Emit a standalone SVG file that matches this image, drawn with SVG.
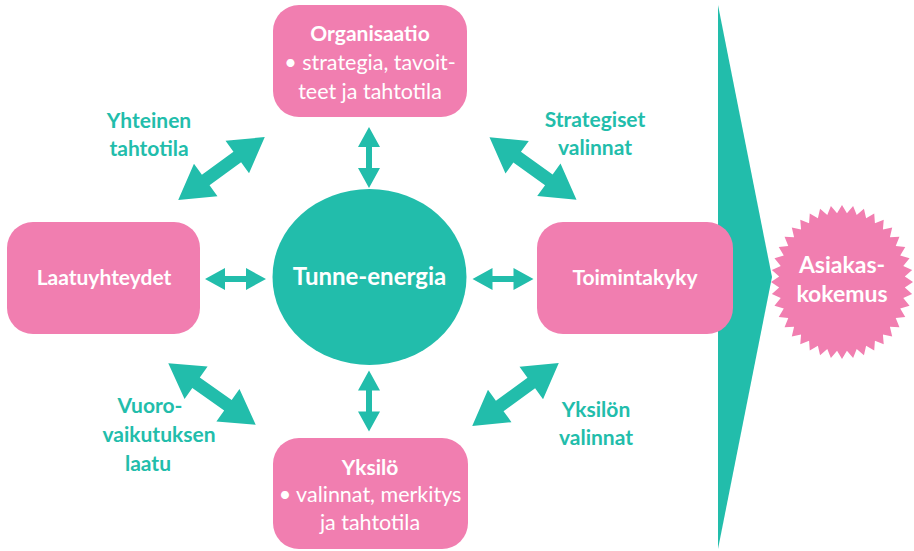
<svg xmlns="http://www.w3.org/2000/svg" width="914" height="551" viewBox="0 0 914 551">
<style>
.node{fill:#F17EB0}
.teal{fill:#22BDAB}
.t{font-family:Lato,"Open Sans",sans-serif;text-anchor:middle}
.wb{fill:#fff;font-weight:bold;font-size:21px}
.wr{fill:#fff;font-size:21.5px}
.lbl{fill:#22BDAB;font-weight:bold;font-size:21px}
</style>
<defs>
<path id="big" d="M -53.5 0 L -19.5 -20 L -19.5 -6.5 L 19.5 -6.5 L 19.5 -20 L 53.5 0 L 19.5 20 L 19.5 6.5 L -19.5 6.5 L -19.5 20 Z"/>
<path id="small" d="M -30.5 0 L -10.5 -11 L -10.5 -3 L 10.5 -3 L 10.5 -11 L 30.5 0 L 10.5 11 L 10.5 3 L -10.5 3 L -10.5 11 Z"/>
</defs>
<g id="flow-arrow">
<polygon class="teal" points="718,5 772,277 718,549"/>
</g>
<g id="connectors" class="teal">
<use href="#big" transform="translate(221.5,168.5) rotate(-36)"/>
<use href="#big" transform="translate(533,168.5) rotate(35.6)"/>
<use href="#big" transform="translate(212,394) rotate(35.2)"/>
<use href="#big" transform="translate(515.5,394.5) rotate(-36)"/>
<use href="#small" transform="translate(235.5,279)"/>
<use href="#small" transform="translate(503,279)"/>
<use href="#small" transform="translate(369,157.5) rotate(90)"/>
<use href="#small" transform="translate(369,401) rotate(90)"/>
</g>
<g id="organisaatio">
<rect class="node" x="273" y="5" width="194" height="112" rx="26"/>
<text class="t wb" x="370" y="41">Organisaatio</text>
<text class="t wr" x="370" y="70">• strategia, tavoit-</text>
<text class="t wr" x="370" y="99">teet ja tahtotila</text>
</g>
<g id="laatuyhteydet">
<rect class="node" x="7" y="222" width="193" height="112" rx="26"/>
<text class="t wb" x="104" y="285">Laatuyhteydet</text>
</g>
<g id="toimintakyky">
<rect class="node" x="537" y="222" width="196" height="112" rx="26"/>
<text class="t wb" x="635" y="285">Toimintakyky</text>
</g>
<g id="yksilo">
<rect class="node" x="273" y="438" width="195" height="111" rx="26"/>
<text class="t wb" x="370" y="475">Yksilö</text>
<text class="t wr" x="370" y="502">• valinnat, merkitys</text>
<text class="t wr" x="370" y="530">ja tahtotila</text>
</g>
<g id="tunne-energia">
<ellipse class="teal" cx="369.5" cy="277" rx="97" ry="88"/>
<text class="t wb" x="369.5" y="285" style="font-size:24px">Tunne-energia</text>
</g>
<g id="asiakaskokemus">
<polygon class="node" points="842,205 846.94,213.21 853.11,205.95 856.71,214.91 863.94,208.77 866.11,218.25 874.23,213.39 874.92,223.17 883.73,219.71 882.92,229.53 892.2,227.55 889.91,237.19 899.44,236.74 895.72,245.95 905.26,247.04 900.2,255.6 909.53,258.21 903.26,265.89 912.13,269.95 904.81,276.59 913,282 904.81,287.41 912.13,294.05 903.26,298.11 909.53,305.79 900.2,308.4 905.26,316.96 895.72,318.05 899.44,327.26 889.91,326.81 892.2,336.45 882.92,334.47 883.73,344.29 874.92,340.83 874.23,350.61 866.11,345.75 863.94,355.23 856.71,349.09 853.11,358.05 846.94,350.79 842,359 837.06,350.79 830.89,358.05 827.29,349.09 820.06,355.23 817.89,345.75 809.77,350.61 809.08,340.83 800.27,344.29 801.08,334.47 791.8,336.45 794.09,326.81 784.56,327.26 788.28,318.05 778.74,316.96 783.8,308.4 774.47,305.79 780.74,298.11 771.87,294.05 779.19,287.41 771,282 779.19,276.59 771.87,269.95 780.74,265.89 774.47,258.21 783.8,255.6 778.74,247.04 788.28,245.95 784.56,236.74 794.09,237.19 791.8,227.55 801.08,229.53 800.27,219.71 809.08,223.17 809.77,213.39 817.89,218.25 820.06,208.77 827.29,214.91 830.89,205.95 837.06,213.21"/>
<text class="t wb" x="842" y="273" style="font-size:23px">Asiakas-</text>
<text class="t wb" x="842" y="302" style="font-size:23px">kokemus</text>
</g>
<g id="labels">
<text class="t lbl" x="149" y="128">Yhteinen</text>
<text class="t lbl" x="149" y="156">tahtotila</text>
<text class="t lbl" x="595" y="127">Strategiset</text>
<text class="t lbl" x="595" y="155">valinnat</text>
<text class="t lbl" x="150" y="413">Vuoro-</text>
<text class="t lbl" x="159" y="442">vaikutuksen</text>
<text class="t lbl" x="148" y="471">laatu</text>
<text class="t lbl" x="596" y="417">Yksilön</text>
<text class="t lbl" x="596" y="445">valinnat</text>
</g>
</svg>
